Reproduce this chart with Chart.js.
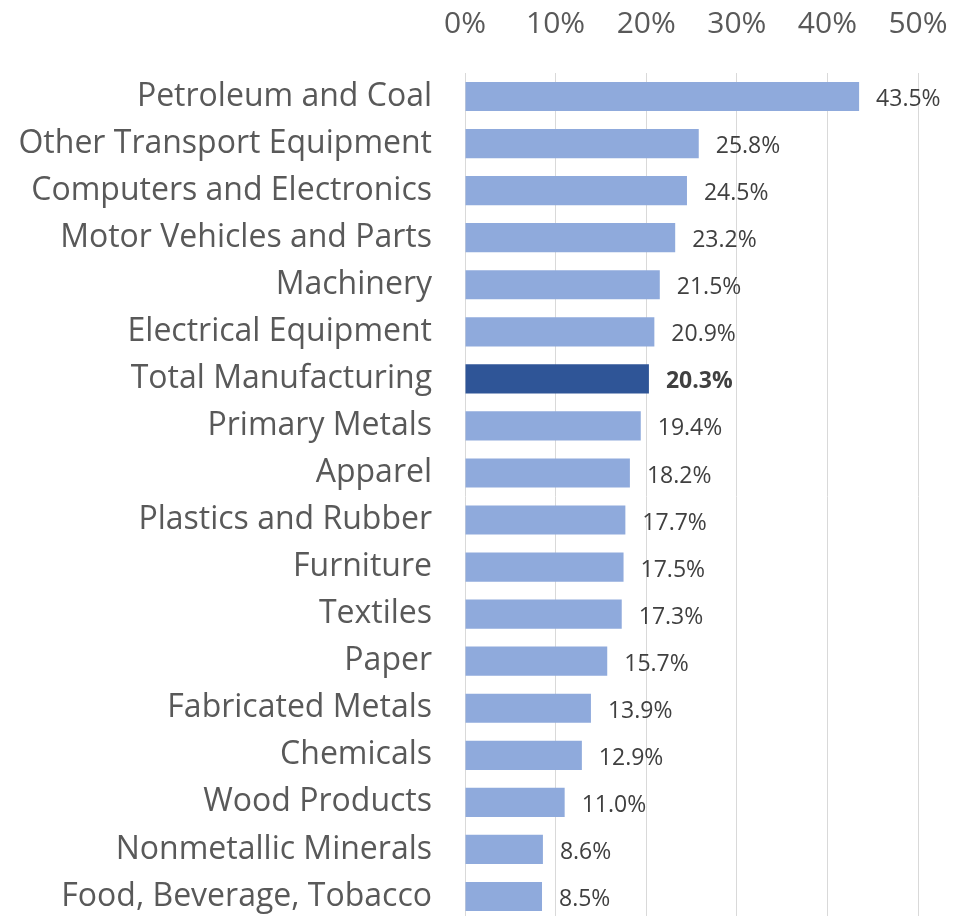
<!DOCTYPE html>
<html><head><meta charset="utf-8">
<script src="https://cdn.jsdelivr.net/npm/chart.js@4.4.1/dist/chart.umd.min.js"></script>
<style>html,body{margin:0;padding:0;background:#fff;overflow:hidden}#wrap{width:971px;height:920px;position:relative}</style>
</head><body><div id="wrap"><canvas id="c"></canvas></div>
<script>
const categories = ["Petroleum and Coal","Other Transport Equipment","Computers and Electronics","Motor Vehicles and Parts","Machinery","Electrical Equipment","Total Manufacturing","Primary Metals","Apparel","Plastics and Rubber","Furniture","Textiles","Paper","Fabricated Metals","Chemicals","Wood Products","Nonmetallic Minerals","Food, Beverage, Tobacco"];
const values = [43.5,25.8,24.5,23.2,21.5,20.9,20.3,19.4,18.2,17.7,17.5,17.3,15.7,13.9,12.9,11.0,8.6,8.5];
const highlight = "Total Manufacturing";
const tickValues = [0,10,20,30,40,50];
const FONT = "'Open Sans', sans-serif";

const labelPlugin = {
  id:'valLabels',
  afterDatasetsDraw(chart){
    const ctx = chart.ctx;
    const meta = chart.getDatasetMeta(0);
    ctx.save();
    ctx.textBaseline='middle';
    ctx.textAlign='left';
    meta.data.forEach((bar,i)=>{
      const bold = categories[i]===highlight;
      ctx.font = (bold?'bold ':'') + '23px ' + FONT;
      ctx.fillStyle = '#404040';
      ctx.fillText(values[i].toFixed(1)+'%', bar.x+17, bar.y+3);
    });
    ctx.restore();
  }
};

new Chart(document.getElementById('c'),{
  type:'bar',
  data:{labels:categories,datasets:[{data:values,
    backgroundColor:categories.map(c=>c===highlight?'#2F5597':'#8FAADC'),
    borderWidth:0,categoryPercentage:1,barPercentage:0.62}]},
  options:{
    indexAxis:'y',responsive:true,maintainAspectRatio:false,animation:false,
    layout:{padding:{left:0,right:53,top:0,bottom:0},autoPadding:false},
    plugins:{legend:{display:false},tooltip:{enabled:false}},
    scales:{
      x:{position:'top',min:0,max:50,
        afterBuildTicks(s){s.ticks=tickValues.map(v=>({value:v}));},
        afterFit(s){s.height=73;s.paddingLeft=0;s.paddingRight=0;},
        ticks:{callback:v=>v+'%',color:'#595959',font:{family:FONT,size:30},padding:31,maxRotation:0},
        grid:{color:'#D9D9D9',lineWidth:1,drawTicks:false},
        border:{display:false}},
      y:{afterFit(s){s.width=465;s.paddingTop=0;s.paddingBottom=0;},
        ticks:{color:'#595959',font:{family:FONT,size:32},padding:25,autoSkip:false},
        grid:{display:false},border:{display:false}}
    }
  },
  plugins:[labelPlugin]
});
</script></body></html>
